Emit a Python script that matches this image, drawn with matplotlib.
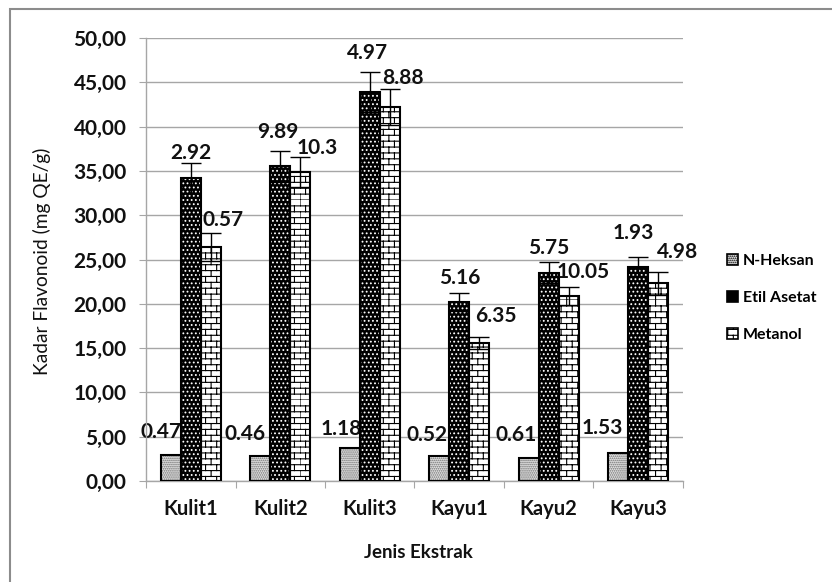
import numpy as np
import matplotlib
matplotlib.use("Agg")
import matplotlib.pyplot as plt
from matplotlib import hatch as mhatch
from matplotlib.patches import Patch, Rectangle
from matplotlib.path import Path

# Data.
categories = ["Kulit1", "Kulit2", "Kulit3", "Kayu1", "Kayu2", "Kayu3"]
nheksan = [2.9, 2.8, 3.7, 2.8, 2.6, 3.2]
etil = [34.2, 35.5, 43.9, 20.2, 23.5, 24.2]
etil_err = [1.7, 1.7, 2.3, 1.0, 1.2, 1.1]
metanol = [26.4, 34.9, 42.2, 15.6, 20.9, 22.3]
metanol_err = [1.6, 1.7, 2.0, 0.7, 1.0, 1.3]

nheksan_lbl = ["0.47", "0.46", "1.18", "0.52", "0.61", "1.53"]
etil_lbl = ["2.92", "9.89", "4.97", "5.16", "5.75", "1.93"]
metanol_lbl = ["0.57", "10.3", "8.88", "6.35", "10.05", "4.98"]

yticks = [0, 5, 10, 15, 20, 25, 30, 35, 40, 45, 50]

# Label nudges (pixels) as placed by hand in the original.
NH_OFF = [(-10, 23), (-15, 22), (-8, 19), (-12, 21), (-13, 23), (-16, 25)]
ET_OFF = [(0, 10), (-2, 19), (-2, 19), (1, 15), (0, 14), (-5, 24)]
ME_OFF = [(12, 13), (17, 9), (13, 11), (17, 21), (14, 15), (19, 20)]

GRID = "#a6a6a6"
TEXT = "#111111"
FONT = "Lato"
NH_FACE, NH_DOT = "#e2e2e2", "#6e6e6e"
NH_HATCH, ET_HATCH, ME_HATCH = "........", "....", "b"


class BrickHatch(mhatch.HatchPatternBase):
    """Staggered brick pattern, triggered by the 'b' hatch character."""

    def __init__(self, hatch, density):
        k = hatch.count("b")
        self.rows = 17 * k
        self.cols = 9 * k
        self.num_vertices = (self.rows * 2 + self.rows * self.cols * 2) if k else 0

    def set_vertices_and_codes(self, vertices, codes):
        n, m = self.rows, self.cols
        i = 0
        for r in range(n):
            y0, y1 = r / n, (r + 1) / n
            vertices[i] = (0, y0)
            vertices[i + 1] = (1, y0)
            i += 2
            shift = 0.5 * (r % 2)
            for c in range(m):
                xv = (c + shift) / m
                vertices[i] = (xv, y0)
                vertices[i + 1] = (xv, y1)
                i += 2
        codes[0::2] = Path.MOVETO
        codes[1::2] = Path.LINETO


mhatch._hatch_types.append(BrickHatch)

plt.rcParams["hatch.linewidth"] = 0.8
plt.rcParams["font.family"] = [FONT, "DejaVu Sans"]

W, H = 832, 582
fig = plt.figure(figsize=(W / 100, H / 100), dpi=100)
ax = fig.add_axes([146 / W, 1 - 481 / H, (683 - 146) / W, (481 - 38) / H])

x = np.arange(len(categories))
bw = 20 / 89.5

styles = [
    (nheksan, NH_FACE, NH_DOT, NH_HATCH),
    (etil, "black", "white", ET_HATCH),
    (metanol, "white", "black", ME_HATCH),
]
for k, (vals, face, hcol, hat) in enumerate(styles):
    pos = x + (k - 1) * bw
    ax.bar(pos, vals, bw, color=face, edgecolor=hcol, hatch=hat,
           linewidth=0, zorder=3)
    ax.bar(pos, vals, bw, fill=False, edgecolor="black", linewidth=1.5,
           zorder=4)

ax.errorbar(x, etil, yerr=etil_err, fmt="none", ecolor="black",
            elinewidth=1.0, capsize=7, capthick=1.0, zorder=5)
ax.errorbar(x + bw, metanol, yerr=metanol_err, fmt="none", ecolor="black",
            elinewidth=1.0, capsize=7, capthick=1.0, zorder=5)

px = 0.72  # points per pixel at 100 dpi
lbl = dict(ha="center", va="center", fontsize=15, fontweight="bold",
           color=TEXT, textcoords="offset points")
for i in range(len(categories)):
    dx, dy = NH_OFF[i]
    ax.annotate(nheksan_lbl[i], (x[i] - bw, nheksan[i]),
                xytext=(dx * px, dy * px), zorder=2, **lbl)
    dx, dy = ET_OFF[i]
    ax.annotate(etil_lbl[i], (x[i], etil[i] + etil_err[i]),
                xytext=(dx * px, dy * px), zorder=6, **lbl)
    dx, dy = ME_OFF[i]
    ax.annotate(metanol_lbl[i], (x[i] + bw, metanol[i] + metanol_err[i]),
                xytext=(dx * px, dy * px), zorder=6, **lbl)

ax.set_xlim(-0.5, len(categories) - 0.5)
ax.set_ylim(0, 50)
ax.set_yticks(yticks)
ax.set_yticklabels([f"{v:.2f}".replace(".", ",") for v in yticks],
                   fontsize=15, fontweight="bold", color=TEXT)
ax.yaxis.grid(True, color=GRID, linewidth=1.0, zorder=0)
ax.set_axisbelow(True)

ax.set_xticks(np.arange(-0.5, len(categories)), labels=[])
ax.set_xticks(x, minor=True)
ax.set_xticklabels(categories, minor=True, fontsize=14.5, fontweight="bold",
                   color=TEXT)
ax.tick_params(axis="x", which="minor", length=0, pad=13)
ax.tick_params(axis="x", which="major", length=5, color=GRID, direction="out")
ax.tick_params(axis="y", length=5, color=GRID, direction="out", pad=9)

for side in ("top", "right"):
    ax.spines[side].set_visible(False)
for side in ("left", "bottom"):
    ax.spines[side].set_color(GRID)
    ax.spines[side].set_linewidth(1.0)

fig.text(42 / W, 1 - 261 / H, "Kadar Flavonoid (mg QE/g)", rotation=90,
         ha="center", va="center", fontsize=13.8, color=TEXT)
fig.text(418 / W, 1 - 553 / H, "Jenis Ekstrak", ha="center", va="center",
         fontsize=13.5, fontweight="bold", color=TEXT)

handles = [
    Patch(facecolor=NH_FACE, edgecolor="black", hatch=NH_HATCH, linewidth=1.2),
    Patch(facecolor="black", edgecolor="black", hatch=ET_HATCH, linewidth=1.2),
    Patch(facecolor="white", edgecolor="black", hatch=ME_HATCH, linewidth=1.2),
]
fig.legend(handles, ["N-Heksan", "Etil Asetat", "Metanol"],
           loc="center left", bbox_to_anchor=(719 / W, 1 - 298 / H),
           frameon=False, handlelength=0.7, handleheight=0.7,
           handletextpad=0.3, labelspacing=1.45, borderpad=0,
           prop={"family": [FONT, "DejaVu Sans"], "weight": "bold", "size": 11.5})

fig.add_artist(Rectangle((10 / W, -0.05), 1.2, 1.05 - 9 / H,
                         transform=fig.transFigure, fill=False,
                         edgecolor="#8c8c8c", linewidth=1.5))

fig.savefig("out.png", dpi=100)
